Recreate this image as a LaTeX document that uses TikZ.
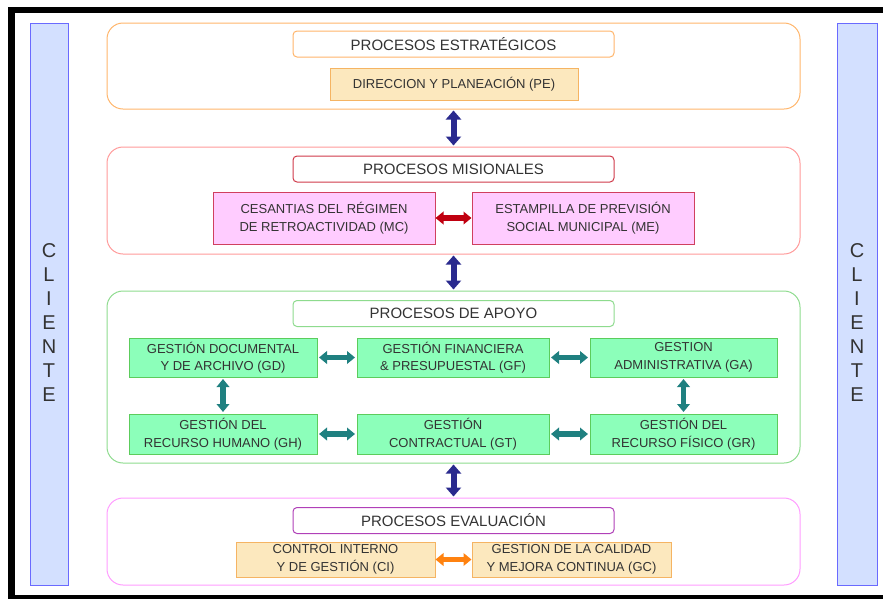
\documentclass[tikz,border=0pt]{standalone}
\usepackage{fontspec}
\setmainfont{Liberation Sans}
\usetikzlibrary{arrows.meta}

\definecolor{txtgray}{HTML}{333333}
\definecolor{barfill}{HTML}{D3E0FF}
\definecolor{bardraw}{HTML}{6A6AFF}
\definecolor{estdraw}{HTML}{FFB56B}
\definecolor{estfill}{HTML}{FCE8BE}
\definecolor{estbox}{HTML}{F5B463}
\definecolor{misdraw}{HTML}{FF9A9A}
\definecolor{mistitle}{HTML}{D03A4A}
\definecolor{misfill}{HTML}{FFCCFF}
\definecolor{misbox}{HTML}{D04060}
\definecolor{apodraw}{HTML}{8EDB8E}
\definecolor{apofill}{HTML}{8CFFBA}
\definecolor{apobox}{HTML}{5CCC5C}
\definecolor{evadraw}{HTML}{FF9CFF}
\definecolor{evatitle}{HTML}{B040B8}
\definecolor{navyarrow}{HTML}{2A2A8E}
\definecolor{redarrow}{HTML}{C00010}
\definecolor{tealarrow}{HTML}{1F8080}
\definecolor{orangearrow}{HTML}{FF8210}

\begin{document}
\begin{tikzpicture}[x=1pt,y=-1pt,
    group/.style={draw,rounded corners=16pt,line width=1pt,minimum width=693pt,inner sep=0pt},
    grouptitle/.style={draw,fill=white,rounded corners=4pt,line width=1pt,minimum width=321pt,
      minimum height=26pt,inner sep=0pt,font=\fontsize{15}{18}\selectfont,text=txtgray},
    procbox/.style={draw,line width=1pt,align=center,inner sep=0pt,
      font=\fontsize{13}{17.5}\selectfont,text=txtgray},
    clientebar/.style={draw=bardraw,fill=barfill,line width=1pt,minimum height=562pt,inner sep=0pt},
    bigarrow/.style={navyarrow,line width=6pt,shorten >=1pt,shorten <=1pt,
      {Triangle[width=15pt,length=9pt]}-{Triangle[width=15pt,length=9pt]}},
    smallarrow/.style={line width=5.5pt,shorten >=1.5pt,shorten <=1.5pt,
      {Triangle[width=12.5pt,length=8pt]}-{Triangle[width=12.5pt,length=8pt]}}]
  \useasboundingbox (0,0) rectangle (883,598);
  \draw[line width=6.5pt] (11.5,598) rectangle (895,10);

  % clientes
  \node[clientebar,minimum width=38pt] (cliL) at (49,304) {};
  \node[clientebar,minimum width=40pt] (cliR) at (857,304) {};
  \node[font=\fontsize{20}{24}\selectfont,align=center,text=txtgray] (txtL) at (49,323) {C\\L\\I\\E\\N\\T\\E};
  \node[font=\fontsize{20}{24}\selectfont,align=center,text=txtgray] (txtR) at (857,323) {C\\L\\I\\E\\N\\T\\E};

  % procesos estrategicos
  \node[group,draw=estdraw,minimum height=86pt] (est) at (453.5,66) {};
  \node[grouptitle,draw=estdraw] (esttit) at (453.5,44) {PROCESOS ESTRATÉGICOS};
  \node[procbox,draw=estbox,fill=estfill,minimum width=248pt,minimum height=32pt] (pe) at (454,84)
    {DIRECCION Y PLANEACIÓN (PE)};

  % procesos misionales
  \node[group,draw=misdraw,minimum height=107pt] (mis) at (453.5,200.5) {};
  \node[grouptitle,draw=mistitle] (mistit) at (453.5,169) {PROCESOS MISIONALES};
  \node[procbox,draw=misbox,fill=misfill,minimum width=222pt,minimum height=52pt] (mc) at (324,218)
    {CESANTIAS DEL RÉGIMEN\\DE RETROACTIVIDAD (MC)};
  \node[procbox,draw=misbox,fill=misfill,minimum width=222pt,minimum height=52pt] (me) at (583,218)
    {ESTAMPILLA DE PREVISIÓN\\SOCIAL MUNICIPAL (ME)};

  % procesos de apoyo
  \node[group,draw=apodraw,minimum height=172pt] (apo) at (453.5,377) {};
  \node[grouptitle,draw=apodraw] (apotit) at (453.5,313.5) {PROCESOS DE APOYO};
  \node[procbox,draw=apobox,fill=apofill,minimum width=188pt,minimum height=39pt] (gd) at (223,357.5)
    {GESTIÓN DOCUMENTAL\\Y DE ARCHIVO (GD)};
  \node[procbox,draw=apobox,fill=apofill,minimum width=192pt,minimum height=39pt] (gf) at (453,357.5)
    {GESTIÓN FINANCIERA\\\& PRESUPUESTAL (GF)};
  \node[procbox,draw=apobox,fill=apofill,minimum width=187pt,minimum height=39pt] (ga) at (683.5,357.5)
    {GESTION\\ADMINISTRATIVA (GA)};
  \node[procbox,draw=apobox,fill=apofill,minimum width=188pt,minimum height=40pt] (gh) at (223,434)
    {GESTIÓN DEL\\RECURSO HUMANO (GH)};
  \node[procbox,draw=apobox,fill=apofill,minimum width=192pt,minimum height=40pt] (gt) at (453,434)
    {GESTIÓN\\CONTRACTUAL (GT)};
  \node[procbox,draw=apobox,fill=apofill,minimum width=187pt,minimum height=40pt] (gr) at (683.5,434)
    {GESTIÓN DEL\\RECURSO FÍSICO (GR)};

  % procesos evaluacion
  \node[group,draw=evadraw,minimum height=87pt] (eva) at (453.5,541.5) {};
  \node[grouptitle,draw=evatitle] (evatit) at (453.5,520.5) {PROCESOS EVALUACIÓN};
  \node[procbox,draw=estbox,fill=estfill,minimum width=199pt,minimum height=35pt] (ci) at (335.5,559.5)
    {CONTROL INTERNO\\Y DE GESTIÓN (CI)};
  \node[procbox,draw=estbox,fill=estfill,minimum width=199pt,minimum height=35pt] (gc) at (571.5,559.5)
    {GESTION DE LA CALIDAD\\Y MEJORA CONTINUA (GC)};

  % flechas
  \draw[bigarrow] (est.south) -- (mis.north);
  \draw[bigarrow] (mis.south) -- (apo.north);
  \draw[bigarrow] (apo.south) -- (eva.north);
  \draw[smallarrow,redarrow,shorten >=0pt,shorten <=0pt] (mc) -- (me);
  \draw[smallarrow,tealarrow] (gd) -- (gf);
  \draw[smallarrow,tealarrow] (gf) -- (ga);
  \draw[smallarrow,tealarrow] (gh) -- (gt);
  \draw[smallarrow,tealarrow] (gt) -- (gr);
  \draw[smallarrow,tealarrow] (gd) -- (gh);
  \draw[smallarrow,tealarrow] (ga) -- (gr);
  \draw[smallarrow,orangearrow,shorten >=0pt,shorten <=0pt] (ci) -- (gc);
\end{tikzpicture}
\end{document}
